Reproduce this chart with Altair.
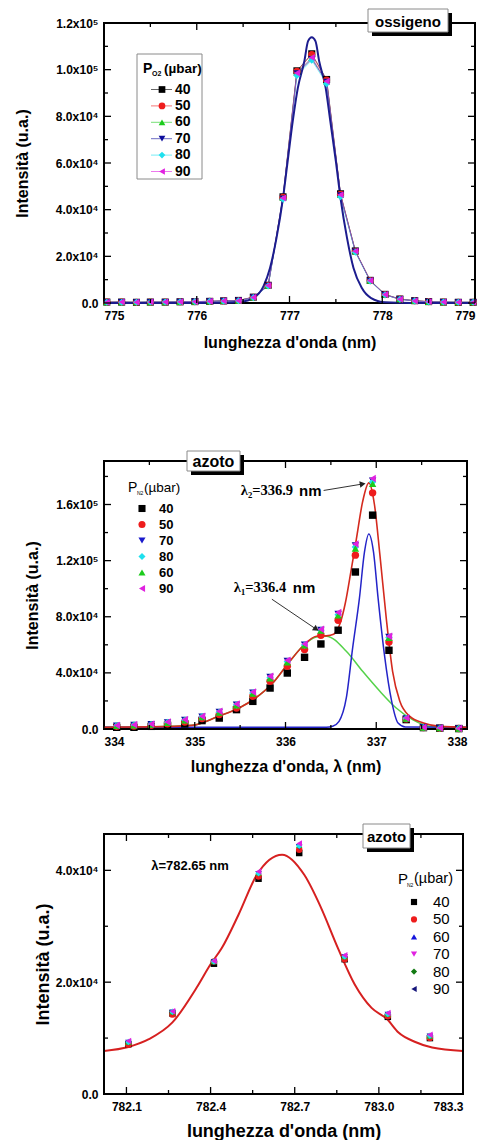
import altair as alt
import pandas as pd

FONT = "Liberation Sans"
SERIF = "Liberation Serif"

# ---------------- Panel 1 : ossigeno ----------------
o2_series = ["40", "50", "60", "70", "80", "90"]
o2_colors = ["#000000", "#ee1c1c", "#1ccc1c", "#0c0c9c", "#1ee0ee", "#e021e0"]
o2_shapes = ["square", "circle", "triangle-up", "triangle-down", "diamond", "triangle-left"]
o2_x = [775.03, 775.19, 775.35, 775.50, 775.66, 775.82, 775.98, 776.14, 776.29, 776.45,
        776.61, 776.77, 776.93, 777.08, 777.24, 777.40, 777.55, 777.71, 777.87, 778.03,
        778.19, 778.35, 778.50, 778.66, 778.82, 778.98]
o2_vals = {
    "40": [400, 400, 300, 400, 400, 500, 600, 700, 900, 1100, 2500, 7600, 45500, 99500, 106800,
           95800, 46800, 22300, 9700, 3700, 1700, 1000, 600, 400, 300, 300],
    "50": [400, 400, 300, 400, 400, 500, 600, 700, 900, 1100, 2500, 7500, 45300, 99300, 106500,
           95600, 46600, 22200, 9600, 3600, 1700, 1000, 600, 400, 300, 300],
    "60": [300, 400, 300, 400, 400, 500, 600, 700, 900, 1000, 2400, 7400, 45000, 98700, 105000,
           95000, 46300, 22100, 9600, 3600, 1600, 900, 500, 400, 300, 300],
    "70": [300, 400, 300, 400, 400, 500, 600, 700, 900, 1000, 2400, 7400, 44800, 98400, 104500,
           94800, 46100, 22000, 9500, 3500, 1600, 900, 500, 400, 300, 300],
    "80": [300, 300, 300, 400, 400, 500, 600, 700, 800, 1000, 2300, 7300, 44500, 97500, 104000,
           94000, 45500, 21800, 9400, 3500, 1600, 900, 500, 400, 300, 300],
    "90": [300, 400, 300, 400, 400, 500, 600, 700, 900, 1000, 2400, 7500, 45000, 98600, 105200,
           95000, 46400, 22200, 9600, 3600, 1600, 900, 500, 400, 300, 300],
}
o2_fit_x = [775.0, 776.0, 776.30, 776.47, 776.61, 776.72, 776.79, 776.86, 776.93, 776.98, 777.035,
            777.09, 777.16, 777.20, 777.24, 777.28, 777.32, 777.39, 777.44, 777.50, 777.55, 777.62,
            777.69, 777.78, 777.88, 778.03, 778.30, 779.0]
o2_fit_y = [0, 0, 100, 500, 2100, 7200, 15000, 27900, 45000, 60700, 77900, 92200, 103600, 112200,
            113900, 112200, 103600, 92200, 77900, 60700, 45000, 27900, 15000, 6400, 2100, 300, 0, 0]

# ---------------- Panel 2 : azoto 337 nm ----------------
n2a_series = ["40", "50", "70", "80", "60", "90"]
n2a_colors = ["#000000", "#ee1c1c", "#1a1acc", "#1ee0ee", "#1ccc1c", "#e021e0"]
n2a_shapes = ["square", "circle", "triangle-down", "diamond", "triangle-up", "triangle-left"]
n2a_x = [334.14, 334.33, 334.52, 334.70, 334.89, 335.08, 335.27, 335.46, 335.64, 335.83, 336.02,
         336.21, 336.39, 336.58, 336.77, 336.96, 337.14, 337.33, 337.52, 337.70, 337.91]
n2a_vals = {
    "40": [1200, 1200, 1900, 2600, 3600, 6000, 7800, 13800, 19700, 29200, 39900, 51100, 60600,
           70400, 111900, 152400, 56100, 6700, 1000, 600, 300],
    "50": [1900, 2100, 2600, 3800, 5000, 7400, 10300, 15000, 23300, 34000, 44700, 56600, 66800,
           77500, 123900, 168300, 62000, 7200, 1100, 600, 300],
    "70": [2400, 2900, 3400, 4700, 6400, 8800, 12200, 17300, 25900, 37000, 48500, 60000, 70600,
           82000, 130800, 177000, 65600, 7600, 1200, 700, 400],
    "80": [2300, 2800, 3300, 4600, 6300, 8700, 12000, 17100, 25600, 36600, 48000, 59800, 70300,
           81500, 129700, 176000, 65200, 7500, 1100, 600, 300],
    "60": [2200, 2700, 3200, 4500, 6200, 8600, 11800, 16900, 25300, 36200, 47600, 59600, 70100,
           81000, 128600, 174700, 65000, 7400, 1100, 600, 300],
    "90": [2600, 3100, 3600, 5000, 6700, 9100, 12600, 17800, 26400, 37600, 49000, 60600, 71100,
           83000, 131900, 178500, 66100, 7800, 1200, 700, 400],
}
n2a_sum_x = [334.0, 334.5, 334.97, 335.26, 335.49, 335.67, 335.86, 336.02, 336.19, 336.34, 336.45,
             336.53, 336.60, 336.66, 336.72, 336.78, 336.85, 336.918, 336.98, 337.04, 337.11, 337.18,
             337.26, 337.37, 337.52, 337.70, 338.0]
n2a_sum_y = [1200, 1500, 2600, 9000, 15000, 22100, 32800, 45900, 59000, 66100, 66400, 67500, 75000,
             90000, 112000, 135000, 162000, 175400, 160000, 124300, 79100, 41100, 19700, 9000, 4300,
             1900, 1200]
n2a_g1_x = [334.0, 334.5, 334.97, 335.26, 335.49, 335.67, 335.86, 336.02, 336.19, 336.34, 336.45,
            336.67, 336.85, 337.04, 337.22, 337.40, 337.59, 337.80, 338.0]
n2a_g1_y = [1200, 1500, 2600, 9000, 15000, 22100, 32800, 45900, 59000, 65500, 66100, 55400, 41100,
            26900, 15000, 6700, 1900, 1300, 1200]
n2a_g2_x = [334.0, 336.45, 336.52, 336.59, 336.67, 336.74, 336.815, 336.87, 336.918, 336.97, 337.02,
            337.09, 337.17, 337.24, 337.32, 338.0]
n2a_g2_y = [1200, 1200, 2000, 5500, 22100, 57800, 93400, 126000, 139000, 126000, 93400, 53000,
            19700, 4300, 1500, 1200]

# ---------------- Panel 3 : azoto 782 nm ----------------
n2b_series = ["40", "50", "60", "70", "80", "90"]
n2b_colors = ["#000000", "#ee1c1c", "#1414dd", "#e021e0", "#127a12", "#14147a"]
n2b_shapes = ["square", "circle", "triangle-up", "triangle-down", "diamond", "triangle-left"]
n2b_x = [782.107, 782.264, 782.412, 782.571, 782.716, 782.878, 783.032, 783.182]
n2b_vals = {
    "40": [8900, 14400, 23300, 38500, 43100, 24100, 13800, 10000],
    "50": [8800, 14200, 23700, 38900, 43700, 24100, 13900, 10000],
    "60": [9300, 14700, 23700, 39600, 44500, 24600, 14300, 10400],
    "70": [9200, 14600, 23600, 39400, 44200, 24500, 14200, 10300],
    "80": [9300, 14700, 23700, 39500, 44400, 24600, 14300, 10400],
    "90": [9500, 14800, 23800, 39800, 44800, 24800, 14500, 10600],
}
n2b_fit_x = [782.02, 782.107, 782.18, 782.264, 782.35, 782.40, 782.44, 782.50, 782.565, 782.655,
             782.734, 782.794, 782.854, 782.914, 782.974, 783.029, 783.07, 783.13, 783.19, 783.30]
n2b_fit_y = [7700, 8400, 9800, 12800, 19000, 23200, 26100, 32100, 39200, 42800, 39200, 33300,
             26100, 19600, 15400, 13400, 11000, 9300, 8300, 7700]

ORIGIN = 104
one = pd.DataFrame({"k": [0]})


def long_df(xs, vals, order):
    rows = []
    for i, s in enumerate(order):
        for xv, yv in zip(xs, vals[s]):
            rows.append({"x": xv, "y": yv, "s": s, "o": i})
    return pd.DataFrame(rows)


def curve_df(xs, ys):
    return pd.DataFrame({"x": xs, "y": ys})


def txt(text, x, y, size, weight="bold", font=FONT, align="left", baseline="middle", color="black"):
    return alt.Chart(one).mark_text(text=text, font=font, fontSize=size, fontWeight=weight,
                                    align=align, baseline=baseline, color=color).encode(
        x=alt.value(x), y=alt.value(y))


def frame(W, H):
    return alt.Chart(one).mark_rect(fill=None, stroke="black", strokeWidth=2).encode(
        x=alt.value(0), x2=alt.value(W), y=alt.value(0), y2=alt.value(H))


def box(x0, y0, x1, y1, label, size):
    sh = alt.Chart(one).mark_rect(color="black").encode(
        x=alt.value(x0 + 4), x2=alt.value(x1 + 4), y=alt.value(y0 + 4), y2=alt.value(y1 + 4))
    bx = alt.Chart(one).mark_rect(fill="white", stroke="#8a8a8a", strokeWidth=1).encode(
        x=alt.value(x0), x2=alt.value(x1), y=alt.value(y0), y2=alt.value(y1))
    return [sh, bx, txt(label, (x0 + x1) / 2, (y0 + y1) / 2 + 1, size, align="center")]


def ticks(xs, ys, xmaj, xmin, ymaj, ymin, W, H):
    L = []
    for vals, ln in ((xmaj, 7), (xmin, 4)):
        d = alt.Chart(pd.DataFrame({"x": vals})).mark_rule(color="black", strokeWidth=1.3)
        L.append(d.encode(x=alt.X("x:Q", scale=xs), y=alt.value(H), y2=alt.value(H - ln)))
        L.append(d.encode(x=alt.X("x:Q", scale=xs), y=alt.value(0), y2=alt.value(ln)))
    for vals, ln in ((ymaj, 7), (ymin, 4)):
        d = alt.Chart(pd.DataFrame({"y": vals})).mark_rule(color="black", strokeWidth=1.3)
        L.append(d.encode(y=alt.Y("y:Q", scale=ys), x=alt.value(0), x2=alt.value(ln)))
        L.append(d.encode(y=alt.Y("y:Q", scale=ys), x=alt.value(W), x2=alt.value(W - ln)))
    return L


def xaxis(title, values, fmt, titleY, size):
    return alt.Axis(title=title, values=values, format=fmt, ticks=False, domain=False, grid=False,
                    labelFont=FONT, labelFontWeight="bold", labelFontSize=12, labelPadding=7,
                    labelColor="black", titleFont=FONT, titleFontWeight="bold", titleFontSize=size,
                    titleColor="black", titleY=titleY, titleBaseline="middle")


def yaxis(title, values, expr, titleX, H, size):
    return alt.Axis(title=title, values=values, labelExpr=expr, ticks=False, domain=False, grid=False,
                    labelFont=FONT, labelFontWeight="bold", labelFontSize=12, labelPadding=6,
                    labelColor="black", titleFont=FONT, titleFontWeight="bold", titleFontSize=size,
                    titleColor="black", titleX=titleX, titleY=H / 2, titleAngle=270,
                    titleAlign="center", titleBaseline="middle")


SUP = ("datum.value == 0 ? '0.0' : (datum.value >= 100000 ? format(datum.value / 100000, '.1f') + "
       "'x10\u2075' : format(datum.value / 10000, '.1f') + 'x10\u2074')")

# ================= Panel 1 =================
W1, H1 = 371, 280
xs1 = alt.Scale(domain=[775, 779], nice=False, zero=False)
ys1 = alt.Scale(domain=[0, 120000], nice=False)
col1 = alt.Scale(domain=o2_series, range=o2_colors)
shp1 = alt.Scale(domain=o2_series, range=o2_shapes)
d1 = long_df(o2_x, o2_vals, o2_series)

p1_lines = alt.Chart(d1).mark_line(strokeWidth=1, opacity=0.5).encode(
    x=alt.X("x:Q", scale=xs1, axis=xaxis("lunghezza d'onda (nm)", [775, 776, 777, 778, 779], "d", 39, 16)),
    y=alt.Y("y:Q", scale=ys1, axis=yaxis("Intensità (u.a.)", [0, 20000, 40000, 60000, 80000, 100000, 120000], SUP, 22 - ORIGIN, H1, 16)),
    color=alt.Color("s:N", scale=col1, legend=None),
    detail="s:N", order="x:Q")
p1_fit = alt.Chart(curve_df(o2_fit_x, o2_fit_y)).mark_line(color="#1c1c8e", strokeWidth=2, interpolate="monotone").encode(
    x=alt.X("x:Q", scale=xs1), y=alt.Y("y:Q", scale=ys1))
p1_pts = alt.Chart(d1).mark_point(filled=True, size=50, opacity=1).encode(
    x=alt.X("x:Q", scale=xs1), y=alt.Y("y:Q", scale=ys1),
    color=alt.Color("s:N", scale=col1, legend=None),
    shape=alt.Shape("s:N", scale=shp1, legend=None), order="o:Q")

leg1 = [alt.Chart(one).mark_rect(fill="white", stroke="#8a8a8a", strokeWidth=1).encode(
    x=alt.value(33), x2=alt.value(98), y=alt.value(31), y2=alt.value(156)),
    txt("P", 39, 46, 14), txt("O2", 48, 51, 7), txt("(µbar)", 60, 46, 13.5)]
for i, s in enumerate(o2_series):
    yy = 66.5 + 16.4 * i
    leg1.append(alt.Chart(one).mark_rule(color=o2_colors[i], strokeWidth=1, opacity=0.6).encode(
        x=alt.value(47), x2=alt.value(68), y=alt.value(yy)))
    leg1.append(alt.Chart(one).mark_point(filled=True, size=45, opacity=1, shape=o2_shapes[i], color=o2_colors[i]).encode(
        x=alt.value(58), y=alt.value(yy)))
    leg1.append(txt(s, 71, yy, 14))

p1 = alt.layer(p1_lines, frame(W1, H1), p1_fit, p1_pts,
               *ticks(xs1, ys1, [775, 776, 777, 778, 779], [775.5, 776.5, 777.5, 778.5],
                      [0, 20000, 40000, 60000, 80000, 100000, 120000],
                      [10000, 30000, 50000, 70000, 90000, 110000], W1, H1),
               *leg1, *box(264, -14, 344, 9, "ossigeno", 15)).properties(width=W1, height=H1)

# ================= Panel 2 =================
W2, H2 = 363, 268
xs2 = alt.Scale(domain=[334, 338], nice=False, zero=False)
ys2 = alt.Scale(domain=[0, 191000], nice=False)
col2 = alt.Scale(domain=n2a_series, range=n2a_colors)
shp2 = alt.Scale(domain=n2a_series, range=n2a_shapes)
d2 = long_df(n2a_x, n2a_vals, n2a_series)

p2_g1 = alt.Chart(curve_df(n2a_g1_x, n2a_g1_y)).mark_line(color="#55d24a", strokeWidth=1.5, interpolate="monotone").encode(
    x=alt.X("x:Q", scale=xs2, axis=xaxis("lunghezza d'onda, λ (nm)", [334, 335, 336, 337, 338], "d", 37, 16)),
    y=alt.Y("y:Q", scale=ys2, axis=yaxis("Intensità (u.a.)", [0, 40000, 80000, 120000, 160000], SUP, 32 - ORIGIN, H2, 16)))
p2_g2 = alt.Chart(curve_df(n2a_g2_x, n2a_g2_y)).mark_line(color="#2424c8", strokeWidth=1.5, interpolate="monotone").encode(
    x=alt.X("x:Q", scale=xs2), y=alt.Y("y:Q", scale=ys2))
p2_sum = alt.Chart(curve_df(n2a_sum_x, n2a_sum_y)).mark_line(color="#d42a1e", strokeWidth=1.6, interpolate="monotone").encode(
    x=alt.X("x:Q", scale=xs2), y=alt.Y("y:Q", scale=ys2))
p2_pts = alt.Chart(d2).mark_point(filled=True, size=55, opacity=1).encode(
    x=alt.X("x:Q", scale=xs2), y=alt.Y("y:Q", scale=ys2),
    color=alt.Color("s:N", scale=col2, legend=None),
    shape=alt.Shape("s:N", scale=shp2, legend=None), order="o:Q")

arrows = []
for (xa, ya, xb, yb, ang) in [(336.42, 170000, 336.84, 174500, 81), (335.85, 92500, 336.33, 71500, 124)]:
    arrows.append(alt.Chart(pd.DataFrame({"x": [xa, xb], "y": [ya, yb]})).mark_line(color="#333333", strokeWidth=1).encode(
        x=alt.X("x:Q", scale=xs2), y=alt.Y("y:Q", scale=ys2)))
    arrows.append(alt.Chart(pd.DataFrame({"x": [xb], "y": [yb]})).mark_point(
        shape="triangle", filled=True, size=45, angle=ang, color="#222222", opacity=1).encode(
        x=alt.X("x:Q", scale=xs2), y=alt.Y("y:Q", scale=ys2)))

ann2 = []
for (lab, xl, xn, yv) in [("λ₂=336.9", 335.507, 336.15, 169500), ("λ₁=336.4", 335.43, 336.08, 100500)]:
    ann2.append(alt.Chart(one).mark_text(text=lab, font=SERIF, fontSize=14.5, fontWeight="bold", align="left", baseline="middle").encode(
        x=alt.datum(xl, scale=xs2), y=alt.datum(yv, scale=ys2)))
    ann2.append(alt.Chart(one).mark_text(text="nm", font=FONT, fontSize=15, fontWeight="bold", align="left", baseline="middle").encode(
        x=alt.datum(xn, scale=xs2), y=alt.datum(yv, scale=ys2)))

leg2 = [txt("P", 24, 27, 14, weight="normal"), txt("N2", 33, 32, 5, weight="normal"),
        txt("(µbar)", 40, 27, 13.5, weight="normal")]
for i, s in enumerate(n2a_series):
    yy = 47.5 + 16 * i
    leg2.append(alt.Chart(one).mark_point(filled=True, size=50, opacity=1, shape=n2a_shapes[i], color=n2a_colors[i]).encode(
        x=alt.value(38), y=alt.value(yy)))
    leg2.append(txt(s, 55, yy, 13))

spacer = alt.Chart(one).mark_rule(opacity=0).encode(x=alt.value(0), y=alt.value(-62), y2=alt.value(0))

p2 = alt.layer(p2_g1, frame(W2, H2), p2_g2, p2_sum, p2_pts, *arrows, *ann2,
               *ticks(xs2, ys2, [334, 335, 336, 337, 338], [334.5, 335.5, 336.5, 337.5],
                      [0, 40000, 80000, 120000, 160000], [20000, 60000, 100000, 140000, 180000], W2, H2),
               *leg2, *box(83, -10, 136, 10, "azoto", 16), spacer).properties(width=W2, height=H2)

# ================= Panel 3 =================
W3, H3 = 359, 260
xs3 = alt.Scale(domain=[782.02, 783.3], nice=False, zero=False)
ys3 = alt.Scale(domain=[0, 46500], nice=False)
col3 = alt.Scale(domain=n2b_series, range=n2b_colors)
shp3 = alt.Scale(domain=n2b_series, range=n2b_shapes)
d3 = long_df(n2b_x, n2b_vals, n2b_series)

p3_fit = alt.Chart(curve_df(n2b_fit_x, n2b_fit_y)).mark_line(color="#d62020", strokeWidth=2, interpolate="monotone").encode(
    x=alt.X("x:Q", scale=xs3, axis=xaxis("lunghezza d'onda (nm)", [782.1, 782.4, 782.7, 783.0, 783.3], ".1f", 37, 18)),
    y=alt.Y("y:Q", scale=ys3, axis=yaxis("Intensità (u.a.)", [0, 20000, 40000], SUP, 43 - ORIGIN, H3, 18)))
p3_pts = alt.Chart(d3).mark_point(filled=True, size=42, opacity=1).encode(
    x=alt.X("x:Q", scale=xs3), y=alt.Y("y:Q", scale=ys3),
    color=alt.Color("s:N", scale=col3, legend=None),
    shape=alt.Shape("s:N", scale=shp3, legend=None), order="o:Q")

leg3 = [txt("P", 294, 45, 15, weight="normal"), txt("N2", 303, 51, 5, weight="normal"),
        txt("(µbar)", 310, 45, 14.5, weight="normal")]
for i, s in enumerate(n2b_series):
    yy = 68 + 17.4 * i
    leg3.append(alt.Chart(one).mark_point(filled=True, size=38, opacity=1, shape=n2b_shapes[i], color=n2b_colors[i]).encode(
        x=alt.value(310), y=alt.value(yy)))
    leg3.append(txt(s, 329, yy, 15, weight="normal"))

p3 = alt.layer(p3_fit, frame(W3, H3), p3_pts,
               *ticks(xs3, ys3, [782.1, 782.4, 782.7, 783.0, 783.3], [782.25, 782.55, 782.85, 783.15],
                      [0, 20000, 40000], [10000, 30000], W3, H3),
               txt("λ=782.65 nm", 86, 32, 13, align="center"),
               *leg3, *box(259, -10, 306, 14, "azoto", 15)).properties(width=W3, height=H3)

chart = alt.vconcat(p1, p2, p3, spacing=49).properties(
    padding={"left": 14, "top": 8, "right": 0, "bottom": 0}, background="white"
).configure_view(stroke=None)

chart.save("out.html", embed_options={"renderer": "svg", "actions": False})
